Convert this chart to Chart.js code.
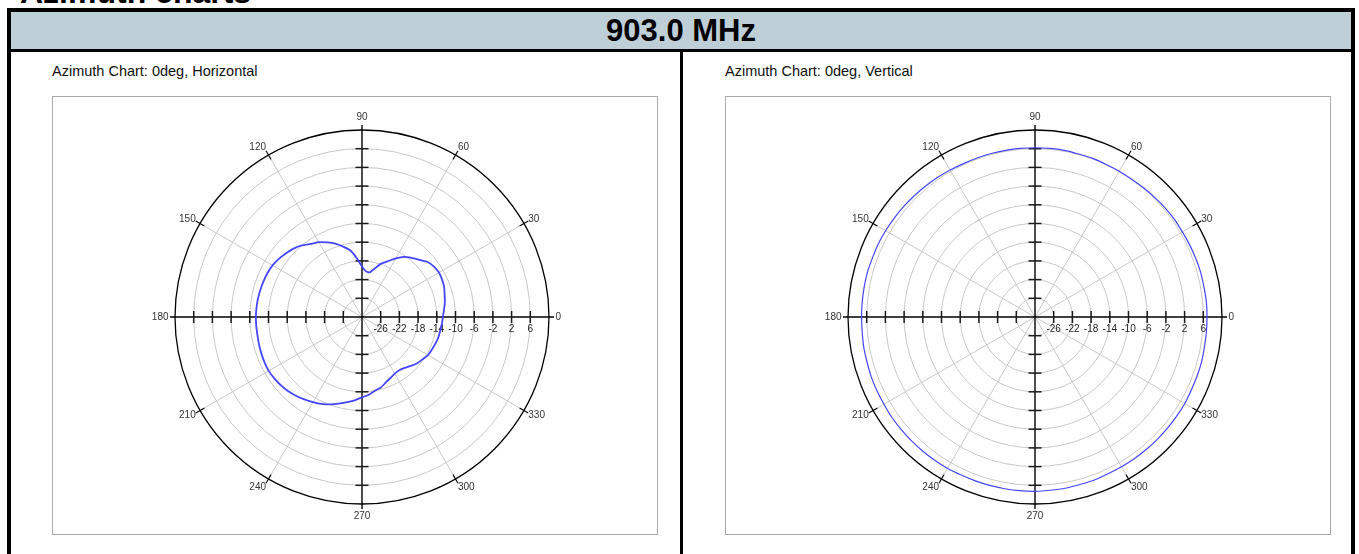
<!DOCTYPE html>
<html>
<head>
<meta charset="utf-8">
<script src="https://cdn.jsdelivr.net/npm/chart.js@4.4.1/dist/chart.umd.min.js"></script>
<style>
html,body{margin:0;padding:0;background:#fff;}
body{width:1359px;height:554px;overflow:hidden;position:relative;font-family:"Liberation Sans",Arial,Helvetica,sans-serif;color:#000;}
#pageTitle{position:absolute;left:20px;top:-24px;font-size:32px;line-height:32px;font-weight:bold;white-space:nowrap;}
#frame{position:absolute;left:7px;top:8px;width:1348px;height:600px;box-sizing:border-box;border-left:4px solid #000;border-right:4px solid #000;border-top:4px solid #000;}
#band{position:absolute;left:11px;top:12px;width:1340px;height:37px;background:#bfcfd8;border-bottom:3px solid #000;text-align:center;font-weight:bold;font-size:31px;line-height:37px;white-space:nowrap;}
#divider{position:absolute;left:680px;top:52px;width:3px;height:520px;background:#000;}
.ptitle{position:absolute;top:63px;font-size:14.5px;line-height:17px;color:#111;white-space:nowrap;}
.box{position:absolute;top:96px;width:606px;height:439px;box-sizing:border-box;border:1px solid #a9a9a9;}
canvas.polar{position:absolute;top:97px;}
</style>
</head>
<body>
<div id="pageTitle">Azimuth charts</div>
<div id="frame"></div>
<div id="band">903.0 MHz</div>
<div id="divider"></div>
<div class="ptitle" style="left:52px;">Azimuth Chart: 0deg, Horizontal</div>
<div class="ptitle" style="left:725px;">Azimuth Chart: 0deg, Vertical</div>
<div class="box" style="left:52px;"></div>
<div class="box" style="left:725px;"></div>
<canvas id="chartH" class="polar" width="440" height="440" style="left:142px;"></canvas>
<canvas id="chartV" class="polar" width="440" height="440" style="left:815px;"></canvas>
<script>
// Azimuth angles (degrees, counter-clockwise from 0 at the right)
const ANGLES = [0,5,10,15,20,25,30,35,40,45,50,55,60,65,70,75,80,85,
  90,95,100,105,110,115,120,125,130,135,140,145,150,155,160,165,170,175,
  180,185,190,195,200,205,210,215,220,225,230,235,240,245,250,255,260,265,
  270,275,280,285,290,295,300,305,310,315,320,325,330,335,340,345,350,355];

// Horizontal polarisation pattern (dB)
const HORIZONTAL_DB = [-12.7,-12.4,-12.0,-11.7,-11.3,-11.1,-11.0,-11.2,-11.7,-12.7,-13.5,-14.3,-15.5,-16.8,-17.8,-19.2,-20.3,-20.2,
  -19.2,-17.4,-15.5,-14.4,-13.3,-12.4,-11.5,-10.9,-10.0,-9.3,-8.8,-8.3,-7.9,-7.7,-7.6,-7.5,-7.4,-7.35,
  -7.3,-7.3,-7.3,-7.2,-7.1,-7.0,-6.95,-7.1,-7.3,-7.6,-8.0,-8.5,-9.0,-9.5,-10.1,-10.8,-11.5,-12.1,
  -12.8,-13.3,-14.0,-14.4,-15.1,-15.6,-16.0,-16.1,-15.8,-15.2,-14.6,-14.2,-13.7,-13.5,-13.3,-13.1,-13.0,-12.85];

// Vertical polarisation pattern (dB)
const VERTICAL_DB = [6.8,6.8,6.7,6.7,6.6,6.5,6.4,6.4,6.3,6.2,6.1,6.0,6.0,6.0,6.1,6.1,6.2,6.2,
  6.2,6.2,6.2,6.2,6.2,6.2,6.3,6.4,6.5,6.6,6.7,6.8,6.9,7.0,7.0,7.1,7.1,7.1,
  7.1,7.1,7.2,7.2,7.3,7.3,7.3,7.4,7.4,7.4,7.4,7.4,7.4,7.3,7.3,7.3,7.3,7.3,
  7.3,7.2,7.2,7.1,7.1,7.0,7.0,7.0,7.0,7.0,7.0,7.0,7.0,6.9,6.9,6.9,6.8,6.8];

// Axis labels
const ANGLE_TICK_LABELS = ['0','30','60','90','120','150','180','210','240','270','300','330'];
const RADIAL_TICK_LABELS = ['-26','-22','-18','-14','-10','-6','-2','2','6'];
const R_MIN = -30, R_MAX = 10, R_STEP = 4;

const N = ANGLES.length;
// chart index i (clockwise from the right) -> azimuth index
const ORDER = ANGLES.map((_, i) => (N - i) % N);
const idxOfAz = az => (N - ANGLES.indexOf(az)) % N;

Chart.defaults.font.family = '"Liberation Sans", Arial, sans-serif';

const polarDecor = {
  id: 'polarDecor',
  beforeDatasetsDraw(chart) {
    const s = chart.scales.r;
    const ctx = chart.ctx;
    const R = s.getDistanceFromCenterForValue(R_MAX);
    const seg = (a, b) => { ctx.beginPath(); ctx.moveTo(a.x, a.y); ctx.lineTo(b.x, b.y); ctx.stroke(); };
    ctx.save();
    ctx.strokeStyle = '#000';
    ctx.lineWidth = 1.1;
    ANGLE_TICK_LABELS.forEach(l => {
      const az = Number(l);
      if (az % 90 === 0) return;
      const i = idxOfAz(az);
      seg(s.getPointPosition(i, R - 5), s.getPointPosition(i, R + 5));
    });
    ctx.lineWidth = 1.4;
    [[0, 180], [90, 270]].forEach(([a1, a2]) => {
      seg(s.getPointPosition(idxOfAz(a1), R + 5), s.getPointPosition(idxOfAz(a2), R + 5));
    });
    ctx.lineWidth = 1.5;
    ctx.strokeStyle = '#1a1a1a';
    RADIAL_TICK_LABELS.forEach(l => {
      const d = s.getDistanceFromCenterForValue(Number(l));
      [0, 180].forEach(az => {
        const p = s.getPointPosition(idxOfAz(az), d);
        seg({x: p.x, y: p.y - 6}, {x: p.x, y: p.y + 6});
      });
      [90, 270].forEach(az => {
        const p = s.getPointPosition(idxOfAz(az), d);
        seg({x: p.x - 6.5, y: p.y}, {x: p.x + 6.5, y: p.y});
      });
    });
    ctx.fillStyle = '#222';
    ctx.font = '10px "Liberation Sans", Arial, sans-serif';
    ctx.textAlign = 'center';
    ctx.textBaseline = 'middle';
    RADIAL_TICK_LABELS.forEach(l => {
      const p = s.getPointPosition(idxOfAz(0), s.getDistanceFromCenterForValue(Number(l)));
      ctx.fillText(l, p.x, p.y + 12);
    });
    ctx.fillStyle = '#333';
    ANGLE_TICK_LABELS.forEach(l => {
      const az = Number(l);
      const i = idxOfAz(az);
      let p;
      if (az === 0 || az === 180) {
        p = s.getPointPosition(i, R + 6.5);
        ctx.textAlign = az === 0 ? 'left' : 'right';
        ctx.fillText(l, p.x, p.y);
      } else if (az === 90 || az === 270) {
        p = s.getPointPosition(i, R + 12.5);
        ctx.textAlign = 'center';
        ctx.fillText(l, p.x, p.y);
      } else {
        p = s.getPointPosition(i, R + 5);
        ctx.textAlign = (az < 90 || az > 270) ? 'left' : 'right';
        ctx.fillText(l, p.x, p.y + (p.y - s.yCenter) / (R + 5) * 4.5);
      }
    });
    ctx.restore();
  }
};

function makeChart(id, values, lw) {
  return new Chart(document.getElementById(id), {
    type: 'radar',
    data: {
      labels: ORDER.map(k => ANGLES[k]),
      datasets: [{
        data: ORDER.map(k => values[k]),
        borderColor: '#4545ff',
        borderWidth: lw,
        fill: false,
        pointRadius: 0,
        pointHoverRadius: 0,
        tension: 0.15
      }]
    },
    options: {
      responsive: false,
      animation: false,
      events: [],
      layout: {padding: 33},
      plugins: {legend: {display: false}, tooltip: {enabled: false}},
      scales: {
        r: {
          min: R_MIN,
          max: R_MAX,
          startAngle: 90,
          ticks: {display: false, stepSize: R_STEP},
          pointLabels: {display: false},
          grid: {
            circular: true,
            color: c => (c.tick && c.tick.value === R_MAX) ? '#000' : (c.tick && c.tick.value === R_MIN ? 'rgba(0,0,0,0)' : '#c8c8c8'),
            lineWidth: c => (c.tick && c.tick.value === R_MAX) ? 1.3 : 1
          },
          angleLines: {
            display: true,
            color: '#c8c8c8',
            lineWidth: c => {
              const az = ANGLES[ORDER[c.index]];
              return (ANGLE_TICK_LABELS.includes(String(az)) && az % 90 !== 0) ? 1 : 0;
            }
          }
        }
      }
    },
    plugins: [polarDecor]
  });
}

makeChart('chartH', HORIZONTAL_DB, 1.8);
makeChart('chartV', VERTICAL_DB, 1.2);
</script>
</body>
</html>
